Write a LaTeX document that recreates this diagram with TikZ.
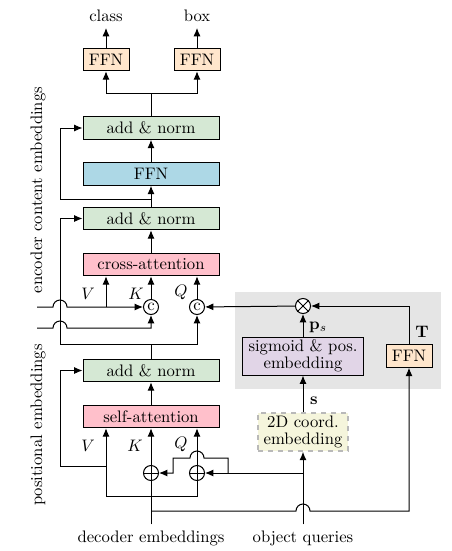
\documentclass[tikz,border=0pt]{standalone}
\usepackage{amsmath,amssymb}
\usepackage{tikz}
\usepackage{xcolor}
\usetikzlibrary{arrows.meta, positioning, calc}
\definecolor{NormGreen}{HTML}{D5E8D4}
\definecolor{FfnBlue}{HTML}{ADD8E6}
\definecolor{AttnPink}{HTML}{FFC0CB}
\definecolor{HeadOrange}{HTML}{FFE6CC}
\definecolor{PosPurple}{HTML}{E1D5E7}
\definecolor{CoordBeige}{HTML}{F5F5DC}
\definecolor{PanelGray}{HTML}{E5E5E5}

\begin{document}
\begin{tikzpicture}[x=0.6pt, y=-0.6pt, >={Latex[length=5pt,width=4.2pt]}, line width=0.6pt,
    layerbox/.style={draw, minimum width=81.6pt, minimum height=13.5pt, inner sep=0pt},
    headbox/.style={draw, fill=HeadOrange, minimum width=27.6pt, minimum height=13.5pt, inner sep=0pt},
    posbox/.style={draw, align=center, minimum height=22.8pt, inner sep=1pt},
    joint/.style={draw, circle, fill=white, minimum size=9pt, inner sep=0pt}]
                \useasboundingbox (0,0) rectangle (452,551);

                % Panel behind the box positions
                \node (panel) [fill=PanelGray, minimum width=123.6pt, minimum height=58.2pt] at (338,340.5) {};

                % Nodes
                \node (addtop) [layerbox, fill=NormGreen] at (151,128) {add \& norm};
                \node (ffn) [layerbox, fill=FfnBlue] at (151,174) {FFN};
                \node (addmid) [layerbox, fill=NormGreen] at (151,218.5) {add \& norm};
                \node (cross) [layerbox, fill=AttnPink] at (151,264.5) {cross-attention};
                \node (addlow) [layerbox, fill=NormGreen] at (151,370.5) {add \& norm};
                \node (self) [layerbox, fill=AttnPink] at (151,416.5) {self-attention};
                \node (ffncls) [headbox] at (106,59.5) {FFN};
                \node (ffnbox) [headbox] at (197,59.5) {FFN};
                \node (lclass) at (106,16) {class};
                \node (lbox) at (197,16) {box};

                \node (ck) [joint] at (151,307) {c};
                \node (cq) [joint] at (197,307) {c};
                \node (mul) [joint] at (303,306) {};
                \draw (mul.45) -- (mul.225) (mul.135) -- (mul.-45);
                \node (pk) [joint] at (151,473) {};
                \draw (pk.north) -- (pk.south) (pk.west) -- (pk.east);
                \node (pq) [joint] at (197,473) {};
                \draw (pq.north) -- (pq.south) (pq.west) -- (pq.east);

                \node (sig) [posbox, fill=PosPurple, minimum width=72.6pt] at (303,356) {sigmoid \& pos.\\[-2pt]embedding};
                \node (coord) [posbox, fill=CoordBeige, draw=gray!55, dashed, line width=1pt, minimum width=54pt] at (303,432) {2D coord.\\[-2pt]embedding};
                \node (ffnt) [headbox] at (409,356) {FFN};

                \node (ldec) at (151,538) {decoder embeddings};
                \node (lobj) at (303,538) {object queries};
                \node (lenc) [rotate=90] at (38,190) {encoder content embeddings};
                \node (lpos) [rotate=90] at (38,425) {positional embeddings};

                % Labels on inputs
                \node (vup) at (88,294) {$V$};
                \node (kup) at (136,294) {$K$};
                \node (qup) at (181,292) {$Q$};
                \node (vlo) at (88,446) {$V$};
                \node (klo) at (135,446) {$K$};
                \node (qlo) at (181,444) {$Q$};
                \node (lps) at (318,327) {$\mathbf{p}_s$};
                \node (ls) at (314,401) {$\mathbf{s}$};
                \node (lt) at (422,332) {$\mathbf{T}$};

                % Helper points
                \coordinate (colS) at (60,0);
                \coordinate (colV) at (106,0);
                \coordinate (d1) at (151,496);
                \coordinate (d2) at (151,511);
                \coordinate (s1) at (106,466);
                \coordinate (o1) at (303,473);
                \coordinate (o2) at (228,473);
                \coordinate (u1) at (151,344);
                \coordinate (u2) at (151,199);
                \coordinate (u3) at (151,93);
                \coordinate (v2) at (106,307);
                \coordinate (encin) at (37,307);
                \coordinate (posin) at (37,328);

                % Paths: self-attention block
                \draw (ldec) -- (pk);
                \draw[->] (pk) -- (self);
                \draw[->] (d1) -| (self.south -| colV);
                \draw (d1) -| (pq.south);
                \draw[->] (pq) -- (self.south -| pq);
                \draw[->] (s1) -| (colS |- addlow) -- (addlow);
                \draw[->] (self) -- (addlow);
                \draw[->] (d2) -- (296,511) arc[start angle=180, end angle=0, radius=4.2pt] -- (409,511) -- (ffnt);

                % Paths: object queries
                \draw[->] (lobj) -- (coord);
                \draw[->] (o1) -- (pq);
                \draw[->] (o2) -- (228,458) -- (204,458) arc[start angle=0, end angle=180, radius=4.2pt] -- (173,458) -- (173,473) -- (pk);
                \draw[->] (coord) -- (sig);
                \draw[->] (sig) -- (mul);
                \draw[->] (ffnt) |- (mul);
                \draw[->] (mul) -- (cq);

                % Paths: cross-attention block
                \draw (addlow) -- (u1);
                \draw[->] (u1) -| (cq);
                \draw[->] (u1) -| (colS |- addmid) -- (addmid);
                \draw[->] (encin) -- (53,307) arc[start angle=180, end angle=0, radius=4.2pt] -- (ck);
                \draw[->] (posin) -- (53,328) arc[start angle=180, end angle=0, radius=4.2pt] -- (ck |- posin) -- (ck);
                \draw[->] (v2) -- (cross.south -| v2);
                \draw[->] (ck) -- (cross);
                \draw[->] (cq) -- (cross.south -| cq);
                \draw[->] (cross) -- (addmid);

                % Paths: FFN and heads
                \draw[->] (addmid) -- (ffn);
                \draw[->] (u2) -| (colS |- addtop) -- (addtop);
                \draw[->] (ffn) -- (addtop);
                \draw (addtop) -- (u3);
                \draw[->] (u3) -| (ffncls);
                \draw[->] (u3) -| (ffnbox);
                \draw[->] (ffncls) -- (lclass);
                \draw[->] (ffnbox) -- (lbox);
\end{tikzpicture}
\end{document}
